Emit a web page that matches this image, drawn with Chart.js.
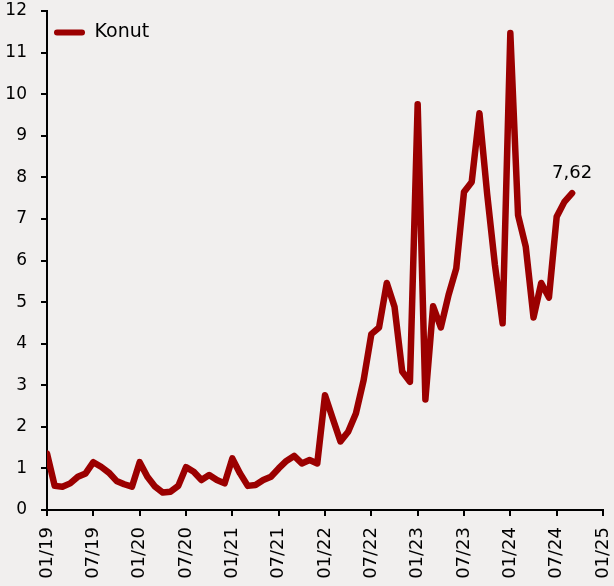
<!DOCTYPE html>
<html>
<head>
<meta charset="utf-8">
<script src="https://cdn.jsdelivr.net/npm/chart.js@4"></script>
<style>
html,body{margin:0;padding:0;background:#f1efee;}
#wrap{width:614px;height:586px;position:relative;}
</style>
</head>
<body>
<div id="wrap"><canvas id="c" width="614" height="586"></canvas></div>
<script>
// Tick labels on the x axis (every 6 months)
const xTickLabels = ['01/19','07/19','01/20','07/20','01/21','07/21','01/22','07/22','01/23','07/23','01/24','07/24','01/25'];
// Monthly values from 01/19 (index 0) to 09/24
const konut2019 = [1.36,0.58,0.56,0.64,0.80,0.88,1.15,1.04,0.90,0.70,0.62,0.56];
const konut2020 = [1.15,0.80,0.56,0.42,0.44,0.58,1.03,0.92,0.72,0.84,0.72,0.64];
const konut2021 = [1.24,0.88,0.58,0.60,0.72,0.80,1.00,1.18,1.30,1.12,1.20,1.12];
const konut2022 = [2.76,2.20,1.65,1.88,2.32,3.12,4.23,4.39,5.46,4.89,3.33,3.08];
const konut2023 = [9.76,2.66,4.90,4.39,5.17,5.81,7.65,7.89,9.54,7.60,5.90,4.49];
const konut2024 = [11.47,7.09,6.33,4.63,5.46,5.11,7.05,7.41,7.62];
const konut = [].concat(konut2019,konut2020,konut2021,konut2022,konut2023,konut2024);
const lastLabel = '7,62';
const seriesName = 'Konut';

const points = konut.map((v,i)=>({x:i,y:v}));
const RED = '#9b0000';
const FONT = 'DejaVu Sans';

const lastValuePlugin = {
  id:'lastValue',
  afterDatasetsDraw(chart){
    const meta = chart.getDatasetMeta(0);
    const el = meta.data[meta.data.length-1];
    const ctx = chart.ctx;
    ctx.save();
    ctx.font = '18px "'+FONT+'"';
    ctx.fillStyle = '#000';
    ctx.textAlign = 'center';
    ctx.textBaseline = 'bottom';
    ctx.fillText(lastLabel, el.x, el.y - 11);
    ctx.restore();
  }
};

// keep the legend inside the plot, at its top-left corner
const legendPlacePlugin = {
  id:'legendPlace',
  beforeDraw(chart){
    const lg = chart.legend;
    if(!lg) return;
    const w = lg.width, h = lg.height;
    lg.left = chart.chartArea.left - 1;
    lg.top = chart.chartArea.top + 4;
    lg.right = lg.left + w;
    lg.bottom = lg.top + h;
  }
};

new Chart(document.getElementById('c'), {
  type:'line',
  data:{
    datasets:[{
      label:seriesName,
      data:points,
      borderColor:RED,
      backgroundColor:RED,
      borderWidth:6.5,
      pointRadius:0,
      tension:0,
      borderJoinStyle:'round',
      borderCapStyle:'round'
    }]
  },
  options:{
    responsive:false,
    animation:false,
    layout:{padding:{left:0,right:11,top:11,bottom:0}},
    plugins:{
      tooltip:{enabled:false},
      legend:{
        position:'chartArea',
        align:'start',
        labels:{
          font:{family:FONT,size:19},
          color:'#000',
          boxWidth:31,
          boxHeight:6,
          useBorderRadius:true,
          borderRadius:3,
          padding:8,
          generateLabels(chart){
            return Chart.defaults.plugins.legend.labels.generateLabels(chart).map(l=>Object.assign(l,{lineWidth:0}));
          }
        }
      }
    },
    scales:{
      x:{
        type:'linear',
        min:0,max:72,
        afterFit(scale){ scale.height = 76; scale.paddingLeft = 0; scale.paddingRight = 0; },
        grid:{display:true,drawOnChartArea:false,drawTicks:true,tickLength:6,color:'#000',lineWidth:2},
        border:{display:true,color:'#000',width:2},
        ticks:{
          stepSize:6,
          autoSkip:false,
          maxRotation:90,minRotation:90,
          padding:11,
          font:{family:FONT,size:18},
          color:'#000',
          callback:(v)=>xTickLabels[Math.round(v/6)]
        }
      },
      y:{
        min:0,max:12,
        afterFit(scale){ scale.width = 47; scale.paddingTop = 0; scale.paddingBottom = 0; },
        grid:{display:true,drawOnChartArea:false,drawTicks:true,tickLength:6,color:'#000',lineWidth:2},
        border:{display:true,color:'#000',width:2},
        ticks:{stepSize:1,padding:14,font:{family:FONT,size:17},color:'#000'}
      }
    }
  },
  plugins:[lastValuePlugin, legendPlacePlugin]
});
</script>
</body>
</html>
